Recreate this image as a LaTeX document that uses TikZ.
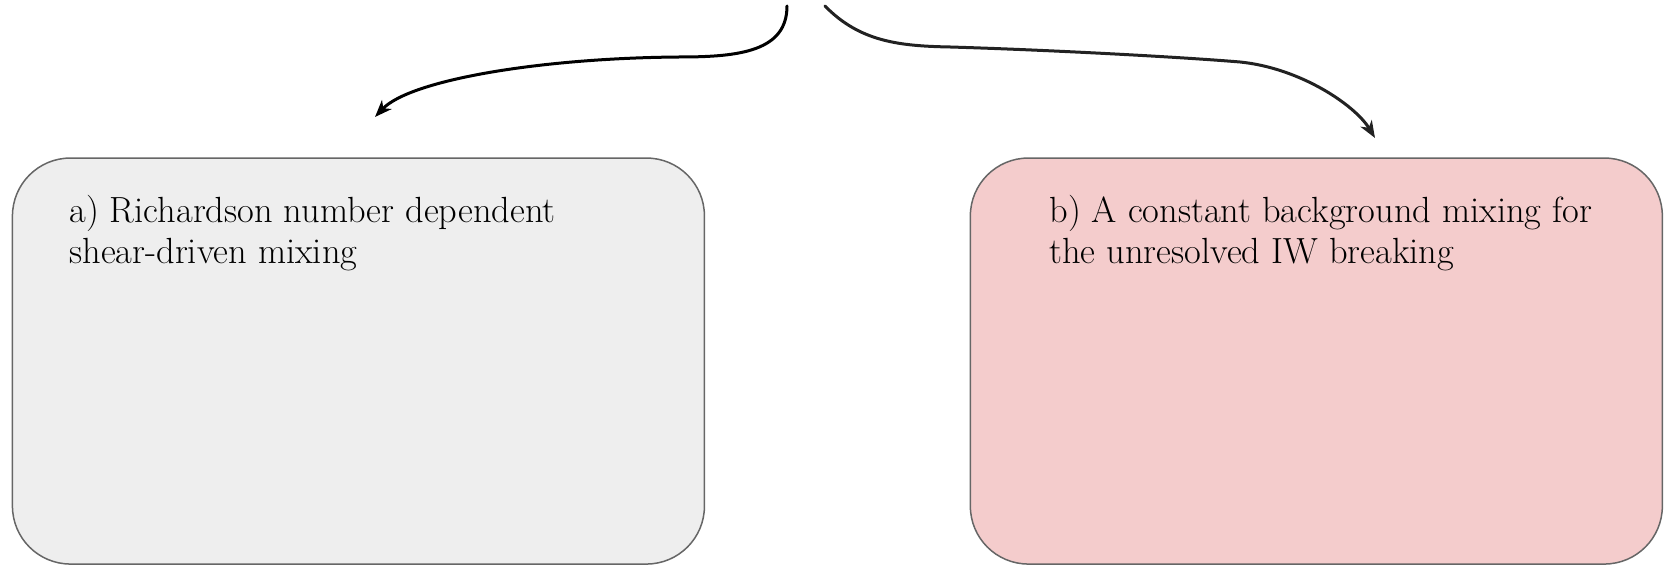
\documentclass[tikz,border=0pt]{standalone}
\usetikzlibrary{arrows.meta}
\definecolor{boxline}{HTML}{666666}
\definecolor{boxgray}{HTML}{EEEEEE}
\definecolor{boxpink}{HTML}{F4CCCC}
\definecolor{arrowdark}{HTML}{222222}
\tikzset{
  mixbox/.style={draw=boxline, line width=0.75pt, rounded corners=29pt,
    minimum width=346pt, minimum height=203pt, inner sep=0pt, anchor=north west},
  boxtext/.style={inner sep=0pt, align=left, anchor=base west,
    font=\fontsize{18.2}{20.8}\selectfont},
  flowarrow/.style={line width=1.5pt, line cap=round,
    -{Stealth[length=8.5pt, width=6.5pt, inset=2.5pt]}},
}
\begin{document}
\begin{tikzpicture}[x=0.5pt, y=-0.5pt]
\useasboundingbox (0,0) rectangle (1667,565);
\node[mixbox, fill=boxgray] (ba) at (11.7,157.3) {};
\node[mixbox, fill=boxpink] (bb) at (969.6,157.3) {};
\node[boxtext] (ta) at (69,264) {a) Richardson number dependent\\shear-driven mixing};
\node[boxtext] (tb) at (1049,264) {b) A constant background mixing for\\the unresolved IW breaking};
\coordinate (sa) at (787,6);
\coordinate (ea) at (375,117);
\coordinate (sb) at (825,6);
\coordinate (eb) at (1375,138);
\draw[flowarrow, black] (sa) .. controls ++(0,45) and (740,57) .. (680,57)
  .. controls (540,58) and (410,80) .. (ea);
\draw[flowarrow, arrowdark] (sb) .. controls ++(35,36) and (900,46) .. (950,47)
  .. controls (1050,50) and (1180,57) .. (1240,62)
  .. controls (1300,68) and (1355,105) .. (eb);
\end{tikzpicture}
\end{document}
